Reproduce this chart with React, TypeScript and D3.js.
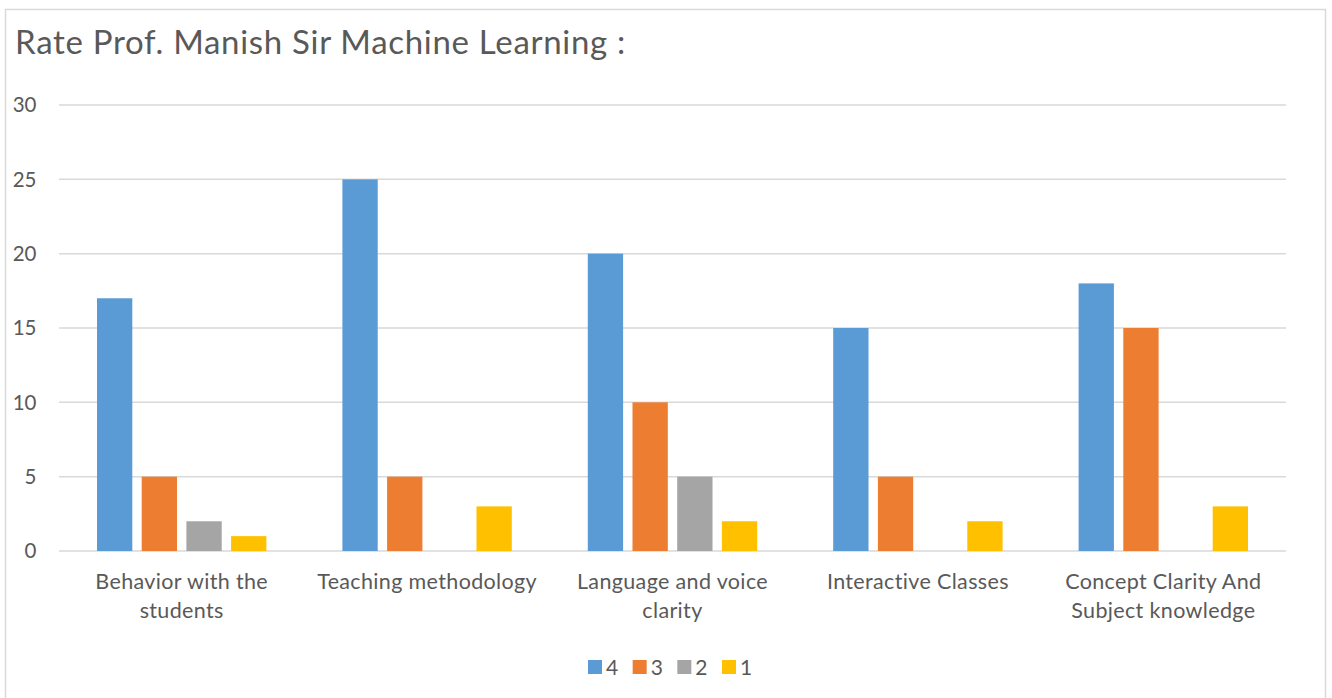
import React from "react";
import * as d3 from "d3";

const title = "Rate Prof. Manish Sir Machine Learning :";
const categories = [
  "Behavior with the students",
  "Teaching methodology",
  "Language and voice clarity",
  "Interactive Classes",
  "Concept Clarity And Subject knowledge",
];
const seriesNames = ["4", "3", "2", "1"];
const series4 = [17, 25, 20, 15, 18];
const series3 = [5, 5, 10, 5, 15];
const series2 = [2, 0, 5, 0, 0];
const series1 = [1, 3, 2, 2, 3];
const seriesValues = [series4, series3, series2, series1];
const colors = ["#5B9BD5", "#ED7D31", "#A5A5A5", "#FFC000"];
const yTicks = [0, 5, 10, 15, 20, 25, 30];

const W = 1332;
const H = 698;
const FONT = "Lato, 'Open Sans', sans-serif";
const TEXT = "#595959";

function measure(text: string, size: number, ls: number): number {
  const c = document.createElement("canvas").getContext("2d");
  if (!c) return text.length * size * 0.48;
  c.font = `${size}px Lato`;
  return c.measureText(text).width + ls * text.length;
}

function wrap(text: string, size: number, ls: number, maxW: number): string[] {
  const words = text.split(" ");
  const lines: string[] = [];
  let cur = "";
  for (const w of words) {
    const t = cur ? cur + " " + w : w;
    if (cur && measure(t, size, ls) > maxW) {
      lines.push(cur);
      cur = w;
    } else cur = t;
  }
  if (cur) lines.push(cur);
  return lines;
}

export default function App() {
  const left = 59;
  const right = 1286;
  const x0 = d3.scaleBand<string>().domain(categories).range([left, right]).padding(0);
  const groupW = 169.4;
  const x1 = d3.scaleBand<string>().domain(seriesNames).range([0, groupW]).paddingInner(0.21).paddingOuter(0);
  const y = d3.scaleLinear().domain([0, 30]).range([551, 105]);
  const labelSize = 21.5;
  const labelLs = 0.35;

  const legendX = d3.scalePoint<string>().domain(seriesNames).range([588, 722]);

  return (
    <svg width={W} height={H} style={{ position: "absolute", left: 0, top: 0, background: "#fff" }}>
      <rect x={5.5} y={9.5} width={1320} height={700} fill="#fff" stroke="#D9D9D9" strokeWidth={1.5} />
      <text x={15} y={54} fontFamily={FONT} fontSize={33} letterSpacing={0.7} fill={TEXT}>
        {title}
      </text>
      {yTicks.map((t) => (
        <g key={t}>
          <line x1={left} x2={right} y1={y(t)} y2={y(t)} stroke="#D9D9D9" strokeWidth={1.5} />
          <text x={36.5} y={y(t)} dy="0.35em" textAnchor="end" fontFamily={FONT} fontSize={20.5} fill={TEXT}>
            {t}
          </text>
        </g>
      ))}
      {categories.map((c, ci) => {
        const gx = (x0(c) ?? 0) + (x0.bandwidth() - groupW) / 2;
        return (
          <g key={c}>
            {seriesNames.map((s, si) => {
              const v = seriesValues[si][ci];
              if (!v) return null;
              return (
                <rect
                  key={s}
                  x={gx + (x1(s) ?? 0)}
                  y={y(v)}
                  width={x1.bandwidth()}
                  height={y(0) - y(v)}
                  fill={colors[si]}
                />
              );
            })}
            {wrap(c, labelSize, labelLs, 236).map((line, li) => (
              <text
                key={li}
                x={(x0(c) ?? 0) + x0.bandwidth() / 2}
                y={589 + li * 28.5}
                textAnchor="middle"
                fontFamily={FONT}
                fontSize={labelSize}
                letterSpacing={labelLs}
                fill={TEXT}
              >
                {line}
              </text>
            ))}
          </g>
        );
      })}
      {seriesNames.map((s, si) => (
        <g key={s} transform={`translate(${legendX(s)},0)`}>
          <rect x={0} y={660} width={14} height={14} fill={colors[si]} />
          <text x={18} y={675} fontFamily={FONT} fontSize={21} fill={TEXT}>
            {s}
          </text>
        </g>
      ))}
    </svg>
  );
}
